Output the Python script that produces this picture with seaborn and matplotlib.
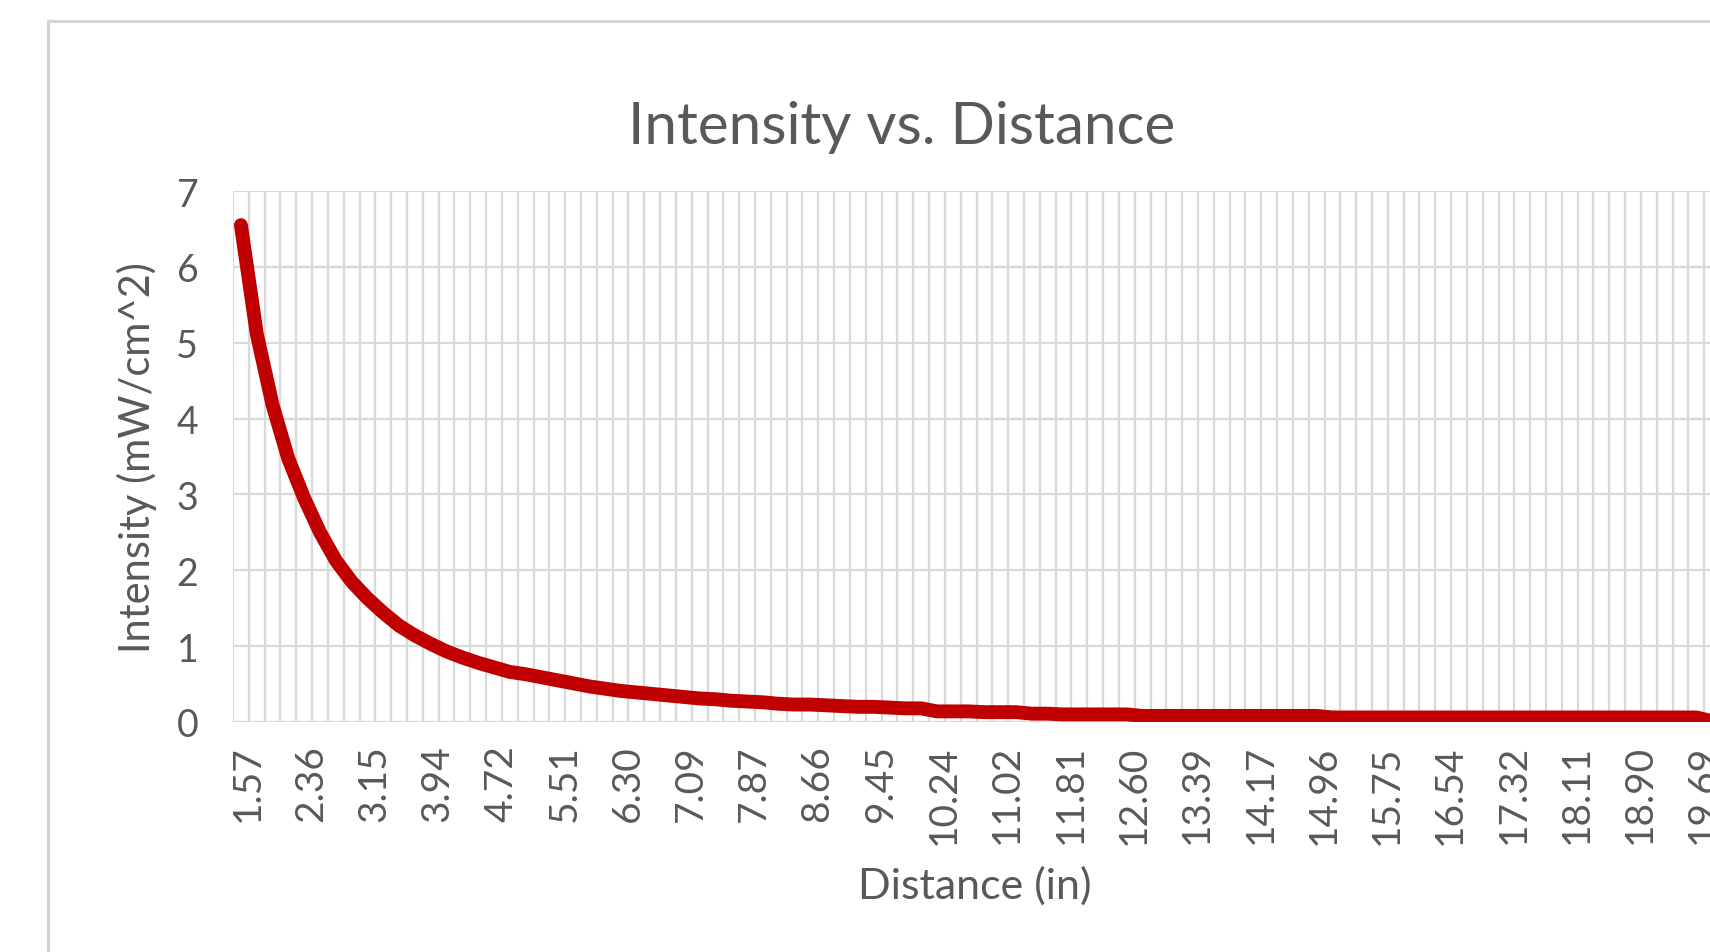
import matplotlib
matplotlib.use("Agg")
import matplotlib.pyplot as plt
from matplotlib.patches import Rectangle
from matplotlib.ticker import FixedLocator
from matplotlib.transforms import ScaledTranslation
import numpy as np
import pandas as pd
import seaborn as sns

# Distance from the source (inches), one category every 0.5 cm
distance_in = [
    "1.57", "1.77", "1.97", "2.17", "2.36", "2.56", "2.76", "2.95", "3.15", "3.35",
    "3.54", "3.74", "3.94", "4.13", "4.33", "4.53", "4.72", "4.92", "5.12", "5.31",
    "5.51", "5.71", "5.91", "6.10", "6.30", "6.50", "6.69", "6.89", "7.09", "7.28",
    "7.48", "7.68", "7.87", "8.07", "8.27", "8.46", "8.66", "8.86", "9.06", "9.25",
    "9.45", "9.65", "9.84", "10.04", "10.24", "10.43", "10.63", "10.83", "11.02", "11.22",
    "11.42", "11.61", "11.81", "12.01", "12.20", "12.40", "12.60", "12.80", "12.99", "13.19",
    "13.39", "13.58", "13.78", "13.98", "14.17", "14.37", "14.57", "14.76", "14.96", "15.16",
    "15.35", "15.55", "15.75", "15.94", "16.14", "16.34", "16.54", "16.73", "16.93", "17.13",
    "17.32", "17.52", "17.72", "17.91", "18.11", "18.31", "18.50", "18.70", "18.90", "19.09",
    "19.29", "19.49", "19.69", "19.88",
]

# Measured intensity (mW/cm^2)
intensity = [
    6.55, 5.12, 4.18, 3.47, 2.95, 2.50, 2.13, 1.85, 1.63, 1.44,
    1.27, 1.14, 1.03, 0.93, 0.85, 0.78, 0.72, 0.66, 0.63, 0.59,
    0.55, 0.51, 0.47, 0.44, 0.41, 0.39, 0.37, 0.35, 0.33, 0.31,
    0.30, 0.28, 0.27, 0.26, 0.24, 0.23, 0.23, 0.22, 0.21, 0.20,
    0.20, 0.19, 0.18, 0.18, 0.14, 0.14, 0.14, 0.13, 0.13, 0.13,
    0.11, 0.11, 0.10, 0.10, 0.10, 0.10, 0.10, 0.08, 0.08, 0.08,
    0.08, 0.08, 0.08, 0.08, 0.08, 0.08, 0.08, 0.08, 0.08, 0.06,
    0.06, 0.06, 0.06, 0.06, 0.06, 0.06, 0.06, 0.06, 0.06, 0.06,
    0.06, 0.06, 0.06, 0.06, 0.06, 0.06, 0.06, 0.06, 0.06, 0.06,
    0.06, 0.06, 0.06, 0.01,
]

y_ticks = [0, 1, 2, 3, 4, 5, 6, 7]
label_step = 4

title_text = "Intensity vs. Distance"
x_label = "Distance (in)"
y_label = "Intensity (mW/cm^2)"

sns.set_theme(style="white")
plt.rcParams["font.family"] = ["Lato", "DejaVu Sans"]

TEXT = "#595959"
GRID = "#d9d9d9"
W, H = 1710, 953

fig = plt.figure(figsize=(W / 100, H / 100), dpi=100)
fig.patch.set_facecolor("white")

# chart-area frame running off the right and bottom edges
fig.patches.append(Rectangle((48 / W, -0.2), 2.0, 1.2 - 22 / H,
                             transform=fig.transFigure, fill=False,
                             edgecolor="#d4d4d4", linewidth=2.2, zorder=0))

left, right, top, bottom = 233, 1720, 192, 723
ax = fig.add_axes([left / W, 1 - bottom / H, (right - left) / W, (bottom - top) / H])
ax.set_facecolor("white")

df = pd.DataFrame({"distance": distance_in, "intensity": intensity})
sns.lineplot(data=df, x="distance", y="intensity", ax=ax, sort=False,
             color="#c00000", linewidth=10, solid_capstyle="round",
             solid_joinstyle="round", zorder=3)

n = len(distance_in)
ax.set_xlim(-0.5, n - 0.5)
ax.set_ylim(0, 7)

ax.set_xticks(range(0, n, label_step))
ax.set_xticklabels(distance_in[::label_step], rotation=90)
ax.xaxis.set_minor_locator(FixedLocator(np.arange(-0.5, n, 1.0)))
ax.set_yticks(y_ticks)
ax.set_yticklabels([str(v) for v in y_ticks])

ax.grid(False)
ax.grid(which="minor", axis="x", color=GRID, linewidth=1.6, zorder=0)
ax.grid(which="major", axis="y", color=GRID, linewidth=1.6, zorder=0)
ax.set_axisbelow(True)
for s in ax.spines.values():
    s.set_visible(False)
ax.axhline(0, color=GRID, linewidth=2.0, zorder=1)

ax.tick_params(axis="both", which="both", length=0, colors=TEXT)
ax.tick_params(axis="x", pad=16, labelsize=28)
ax.tick_params(axis="y", pad=25, labelsize=27)

# nudge the rotated category labels slightly right of their ticks
shift = ScaledTranslation(7 / 100, 0, fig.dpi_scale_trans)
for lbl in ax.get_xticklabels():
    lbl.set_transform(lbl.get_transform() + shift)

ax.set_xlabel("")
ax.set_ylabel("")

fig.text(902 / W, 1 - 128 / H, title_text, ha="center", va="center",
         fontsize=42, color=TEXT)
fig.text(975 / W, 1 - 886 / H, x_label, ha="center", va="center",
         fontsize=31, color=TEXT)
fig.text(137 / W, 1 - 458 / H, y_label, ha="center", va="center",
         rotation=90, fontsize=30, color=TEXT)

fig.savefig("out.png", dpi=100, facecolor="white")
